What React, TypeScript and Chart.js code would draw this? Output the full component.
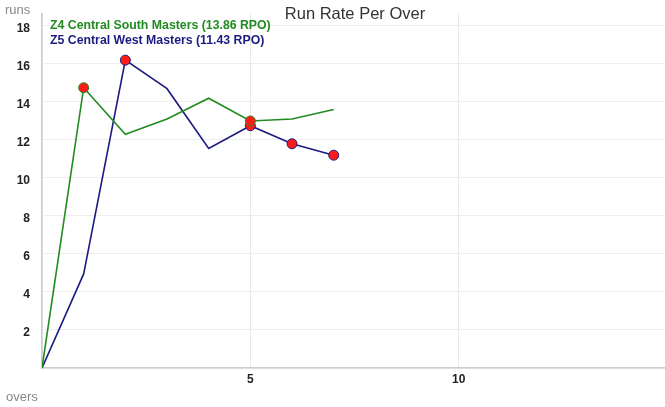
import React, { useEffect, useRef } from "react";
import { Chart, registerables } from "chart.js";

Chart.register(...registerables);

const overs = [0, 1, 2, 3, 4, 5, 6, 7];
const southRuns = [0, 14.75, 12.3, 13.1, 14.2, 13.0, 13.1, 13.6];
const southWickets = [false, true, false, false, false, true, false, false];
const westRuns = [0, 4.95, 16.2, 14.7, 11.55, 12.75, 11.8, 11.2];
const westWickets = [false, false, true, false, false, true, true, true];
const xTicks = [0, 5, 10];
const yTicks = [0, 2, 4, 6, 8, 10, 12, 14, 16, 18];

const southLabel = "Z4 Central South Masters (13.86 RPO)";
const westLabel = "Z5 Central West Masters (11.43 RPO)";
const GREEN = "#228b22";
const BLUE = "#1c1c80";
const FONT = "'Liberation Sans', Arial, Helvetica, sans-serif";

export default function App() {
  const ref = useRef<HTMLCanvasElement | null>(null);

  useEffect(() => {
    document.body.style.margin = "0";
    const ctx = ref.current!;
    const mk = (runs: number[], wk: boolean[], color: string) => ({
      data: overs.map((o, i) => ({ x: o, y: runs[i] })),
      borderColor: color,
      borderWidth: 1.6,
      pointRadius: wk.map((w) => (w ? 5 : 0)),
      pointHoverRadius: wk.map((w) => (w ? 5 : 0)),
      pointBackgroundColor: "#ff1a1a",
      pointBorderColor: color,
      pointBorderWidth: 1,
      tension: 0,
      fill: false,
    });
    const chart = new Chart(ctx, {
      type: "line",
      data: {
        datasets: [
          { label: southLabel, ...mk(southRuns, southWickets, GREEN) },
          { label: westLabel, ...mk(westRuns, westWickets, BLUE) },
        ],
      },
      options: {
        animation: false,
        responsive: false,
        maintainAspectRatio: false,
        layout: { padding: { top: 14, right: 0, left: 0, bottom: 0 } },
        plugins: {
          legend: { display: false },
          title: { display: false },
          tooltip: { enabled: false },
        },
        scales: {
          x: {
            type: "linear",
            min: 0,
            max: 14.95,
            afterBuildTicks: (s: any) => {
              s.ticks = xTicks.map((v) => ({ value: v }));
            },
            afterFit: (s: any) => {
              s.height = 39;
              s.paddingLeft = 0;
              s.paddingRight = 0;
            },
            ticks: {
              callback: (v: any) => (v === 0 ? "" : String(v)),
              color: "#222",
              font: { family: FONT, size: 12, weight: "bold" },
              padding: 4,
              maxRotation: 0,
            },
            grid: {
              color: "#e8e8e8",
              lineWidth: 1,
              drawTicks: false,
            },
            border: { color: "#cccccc", width: 1.5 },
          },
          y: {
            type: "linear",
            min: 0,
            max: 18.63,
            afterBuildTicks: (s: any) => {
              s.ticks = yTicks.map((v) => ({ value: v }));
            },
            afterFit: (s: any) => {
              s.width = 42;
              s.paddingTop = 0;
              s.paddingBottom = 0;
            },
            ticks: {
              callback: (v: any) => (v === 0 ? "" : String(v)),
              color: "#222",
              font: { family: FONT, size: 12, weight: "bold" },
              padding: 12,
              labelOffset: 3,
            },
            grid: {
              color: "#eeeeee",
              lineWidth: 1,
              drawTicks: false,
            },
            border: { color: "#cccccc", width: 1.5 },
          },
        },
      },
    } as any);
    return () => chart.destroy();
  }, []);

  const abs = (extra: React.CSSProperties): React.CSSProperties => ({
    position: "absolute",
    fontFamily: FONT,
    whiteSpace: "nowrap",
    lineHeight: 1,
    ...extra,
  });

  return (
    <div style={{ position: "relative", width: 665, height: 407, background: "#fff", overflow: "hidden" }}>
      <canvas ref={ref} width={671} height={407} style={{ display: "block" }} />
      <div style={abs({ left: 0, width: 710, top: 5, textAlign: "center", fontSize: 16.5, color: "#333" })}>
        Run Rate Per Over
      </div>
      <div style={abs({ left: 5, top: 3, fontSize: 13, color: "#888" })}>runs</div>
      <div style={abs({ left: 6, top: 390, fontSize: 13, color: "#888" })}>overs</div>
      <div style={abs({ left: 50, top: 19, fontSize: 12.3, fontWeight: "bold", color: GREEN })}>{southLabel}</div>
      <div style={abs({ left: 50, top: 34, fontSize: 12.3, fontWeight: "bold", color: BLUE })}>{westLabel}</div>
    </div>
  );
}
